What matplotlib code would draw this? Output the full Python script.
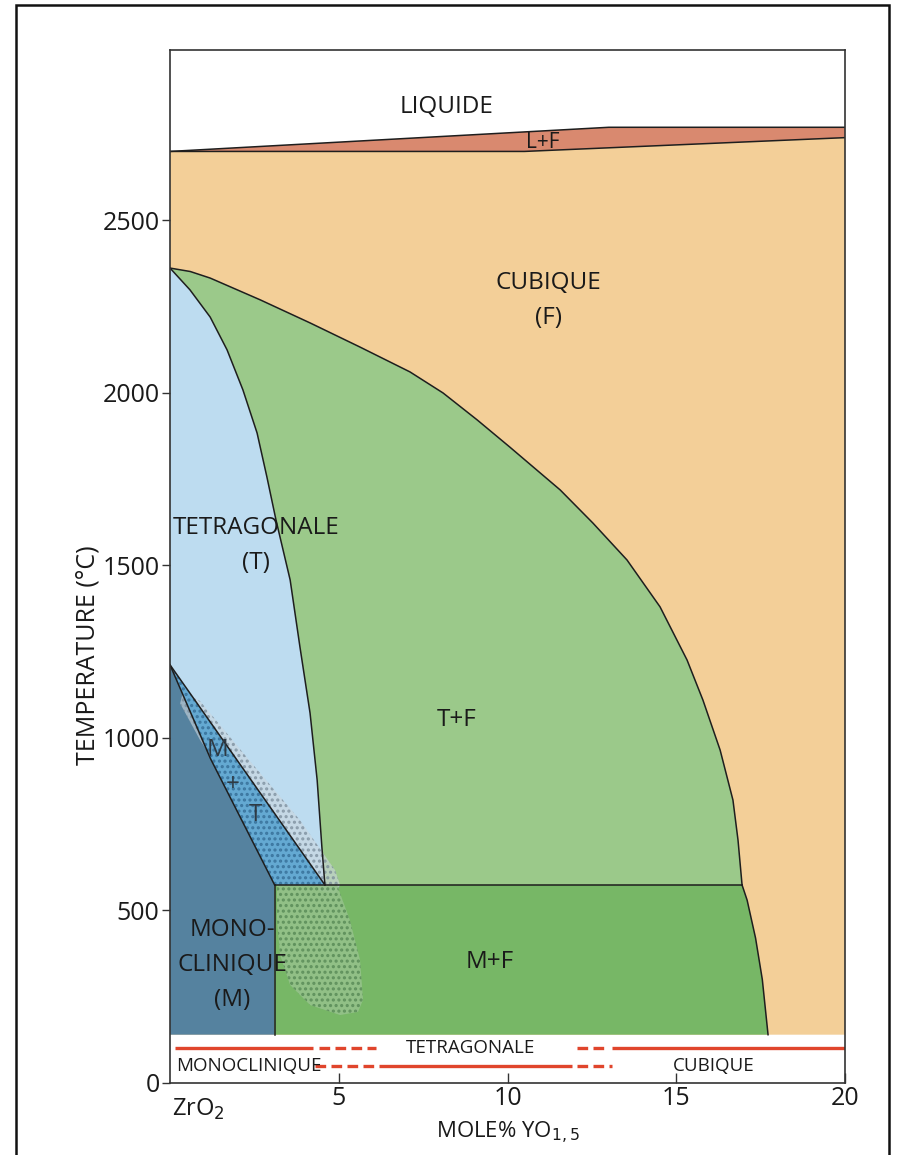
import numpy as np
import matplotlib
matplotlib.use('Agg')
import matplotlib.pyplot as plt
from matplotlib.patches import Rectangle

plt.rcParams['font.family'] = ['Open Sans', 'DejaVu Sans']
plt.rcParams['hatch.linewidth'] = 1.5

# ---------------- data (x: mole % YO1.5, T: degC) ----------------
T_BASE = 140          # lower limit of the coloured diagram
T_EUT = 574           # eutectoid temperature
X_M = 3.1             # monoclinic limit below eutectoid

liquidus_x = [0, 13.0, 20]
liquidus_T = [2700, 2770, 2770]
solidus_x = [0, 10.5, 20]
solidus_T = [2700, 2700, 2740]

cubic_x = [0, 0.6, 1.19, 2.67, 4.15, 5.63, 7.11, 8.09, 9.10, 10.07, 11.56, 12.53, 13.54, 14.52,
           15.32, 15.79, 16.3, 16.68, 16.83, 16.95]
cubic_T = [2362, 2352, 2333, 2270, 2203, 2133, 2061, 2000, 1922, 1843, 1719, 1623, 1516, 1380,
           1226, 1110, 965, 820, 704, 574]

mf_x = [16.95, 17.1, 17.35, 17.55, 17.72]
mf_T = [574, 530, 420, 300, 140]

tet_x = [0, 0.59, 1.19, 1.69, 2.16, 2.58, 2.87, 3.14, 3.56, 3.85, 4.15, 4.36, 4.5, 4.59]
tet_T = [2362, 2299, 2220, 2125, 2009, 1884, 1757, 1632, 1458, 1264, 1072, 878, 684, 574]

mt_up_x = [0, 4.59]
mt_up_T = [1212, 574]
mt_lo_x = [0, 1.2, 3.1]
mt_lo_T = [1212, 940, 574]

speckle_x = [0.39, 0.89, 2.37, 3.85, 4.89, 5.04, 4.9, 4.44, 3.56, 2.07, 0.89, 0.3]
speckle_T = [1136, 1107, 933, 762, 617, 574, 548, 557, 643, 820, 994, 1100]

blob_x = [3.17, 4.95, 5.33, 5.63, 5.72, 5.57, 5.04, 4.15, 3.56, 3.26, 3.17]
blob_T = [574, 574, 472, 357, 241, 206, 197, 226, 284, 371, 472]

# bottom legend band
row1_T, row2_T = 101, 49
row1_solid = [(0.15, 4.25), (13.1, 20.0)]
row1_dash = [(4.4, 6.1), (12.05, 12.95)]
row2_solid = [(6.2, 11.9)]
row2_dash = [(4.3, 6.1), (12.05, 13.1)]

xticks = [5, 10, 15, 20]
yticks = [0, 500, 1000, 1500, 2000, 2500]

# colours
C_CUB = '#f3cf98'
C_LF = '#d9896f'
C_TF = '#9bc98a'
C_MF = '#77b766'
C_T = '#bddcf0'
C_M = '#55829f'
C_MT = '#64a9d2'
C_RED = '#e0452c'
EDGE = '#1e1e1e'

fig = plt.figure(figsize=(9.05, 11.55), dpi=100)
ax = fig.add_axes([170 / 905, 72 / 1155, 675 / 905, 1033 / 1155])
ax.set_xlim(0, 20)
ax.set_ylim(0, 2994)

def poly(xs, ts, color, z=1, **kw):
    ax.fill(xs, ts, color=color, lw=0, zorder=z, **kw)

# cubic (F) field
poly([0, 20] + solidus_x[::-1], [T_BASE, T_BASE] + solidus_T[::-1], C_CUB)
# L+F
poly(solidus_x + liquidus_x[::-1], solidus_T + liquidus_T[::-1], C_LF)
# T+F
poly(cubic_x + tet_x[::-1], cubic_T + tet_T[::-1], C_TF)
# T
poly(tet_x + mt_up_x[::-1], tet_T + mt_up_T[::-1], C_T)
# M
poly([0] + mt_lo_x + [X_M], [T_BASE] + mt_lo_T + [T_BASE], C_M)
# M+F
poly([X_M, X_M] + mf_x, [T_BASE, T_EUT] + mf_T, C_MF)

# grey speckled band around the M+T field
ax.fill(speckle_x, speckle_T, facecolor=(0.80, 0.84, 0.87, 0.6), edgecolor=(0.45, 0.52, 0.58, 0.7),
        lw=0, hatch='...', zorder=2)
# M+T field (speckled blue)
ax.fill(mt_up_x + mt_lo_x[::-1], mt_up_T + mt_lo_T[::-1], facecolor=C_MT,
        edgecolor=(0.20, 0.42, 0.58, 0.8), lw=0, hatch='...', zorder=2.5)
# green speckled blob
ax.fill(blob_x, blob_T, facecolor=(0.58, 0.76, 0.54, 0.9), edgecolor=(0.30, 0.50, 0.30, 0.7),
        lw=0, hatch='...', zorder=3)

# boundaries
lk = dict(color=EDGE, lw=1.1, zorder=4, solid_joinstyle='round')
ax.plot(liquidus_x, liquidus_T, **lk)
ax.plot(solidus_x, solidus_T, **lk)
ax.plot(cubic_x, cubic_T, **lk)
ax.plot(mf_x, mf_T, **lk)
ax.plot(tet_x, tet_T, **lk)
ax.plot(mt_up_x, mt_up_T, **lk)
ax.plot(mt_lo_x, mt_lo_T, **lk)
ax.plot([X_M, cubic_x[-1]], [T_EUT, T_EUT], **lk)
ax.plot([X_M, X_M], [T_BASE, T_EUT], **lk)

# region labels
fs = 17.5
tk = dict(ha='center', va='center', fontsize=fs, color='#1a1a1a', zorder=6)
ax.text(8.18, 2829, 'LIQUIDE', **tk)
ax.text(11.05, 2725, 'L+F', **dict(tk, fontsize=15))
ax.text(11.2, 2319, 'CUBIQUE', **tk)
ax.text(11.2, 2217, '(F)', **tk)
ax.text(2.55, 1609, 'TETRAGONALE', **tk)
ax.text(2.55, 1507, '(T)', **tk)
ax.text(8.5, 1052, 'T+F', **tk)
ax.text(1.42, 965, 'M', **dict(tk, color='#2e3a44'))
ax.text(1.87, 864, '+', **dict(tk, color='#2e3a44'))
ax.text(2.52, 777, 'T', **dict(tk, color='#2e3a44'))
ax.text(1.84, 443, 'MONO-', **tk)
ax.text(1.84, 342, 'CLINIQUE', **tk)
ax.text(1.84, 241, '(M)', **tk)
ax.text(9.48, 351, 'M+F', **tk)

# bottom band
for a, b in row1_solid:
    ax.plot([a, b], [row1_T, row1_T], color=C_RED, lw=2.4, solid_capstyle='butt')
for a, b in row2_solid:
    ax.plot([a, b], [row2_T, row2_T], color=C_RED, lw=2.4, solid_capstyle='butt')
for a, b in row1_dash:
    ax.plot([a, b], [row1_T, row1_T], color=C_RED, lw=2.4, dashes=(3.2, 1.6), dash_capstyle='butt')
for a, b in row2_dash:
    ax.plot([a, b], [row2_T, row2_T], color=C_RED, lw=2.4, dashes=(3.2, 1.6), dash_capstyle='butt')
bk = dict(va='center', fontsize=13.5, color='#1a1a1a')
ax.text(8.9, row1_T, 'TETRAGONALE', ha='center', **bk)
ax.text(0.18, row2_T, 'MONOCLINIQUE', ha='left', **bk)
ax.text(16.1, row2_T, 'CUBIQUE', ha='center', **bk)

# axes styling
for s in ax.spines.values():
    s.set_color('#333333')
    s.set_linewidth(1.2)
    s.set_zorder(7)
ax.set_xticks(xticks)
ax.set_xticklabels([str(v) for v in xticks])
ax.set_yticks(yticks)
ax.set_yticklabels([str(v) for v in yticks])
ax.tick_params(axis='x', direction='in', length=7, width=1, labelsize=18, pad=2.5, colors='#333333',
               labelcolor='#1a1a1a')
ax.tick_params(axis='y', direction='out', length=6, width=1, labelsize=18, pad=1.5, colors='#333333',
               labelcolor='#1a1a1a')
ax.text(0.05, -0.026, 'ZrO$_2$', transform=ax.get_xaxis_transform(), ha='left', va='center',
        fontsize=17, color='#1a1a1a')
ax.set_xlabel('MOLE% YO$_{1,5}$', fontsize=16, labelpad=6, color='#1a1a1a')
ax.set_ylabel('TEMPERATURE (°C)', fontsize=18, color='#1a1a1a')
ax.yaxis.set_label_coords(-0.103, 0.414)

# outer frame
fig.patches.append(Rectangle((16 / 905, -0.02), (889 - 16) / 905, 1.02 - 5 / 1155, transform=fig.transFigure,
                             fill=False, edgecolor='#111111', lw=1.8))

fig.savefig('out.png', dpi=100)
